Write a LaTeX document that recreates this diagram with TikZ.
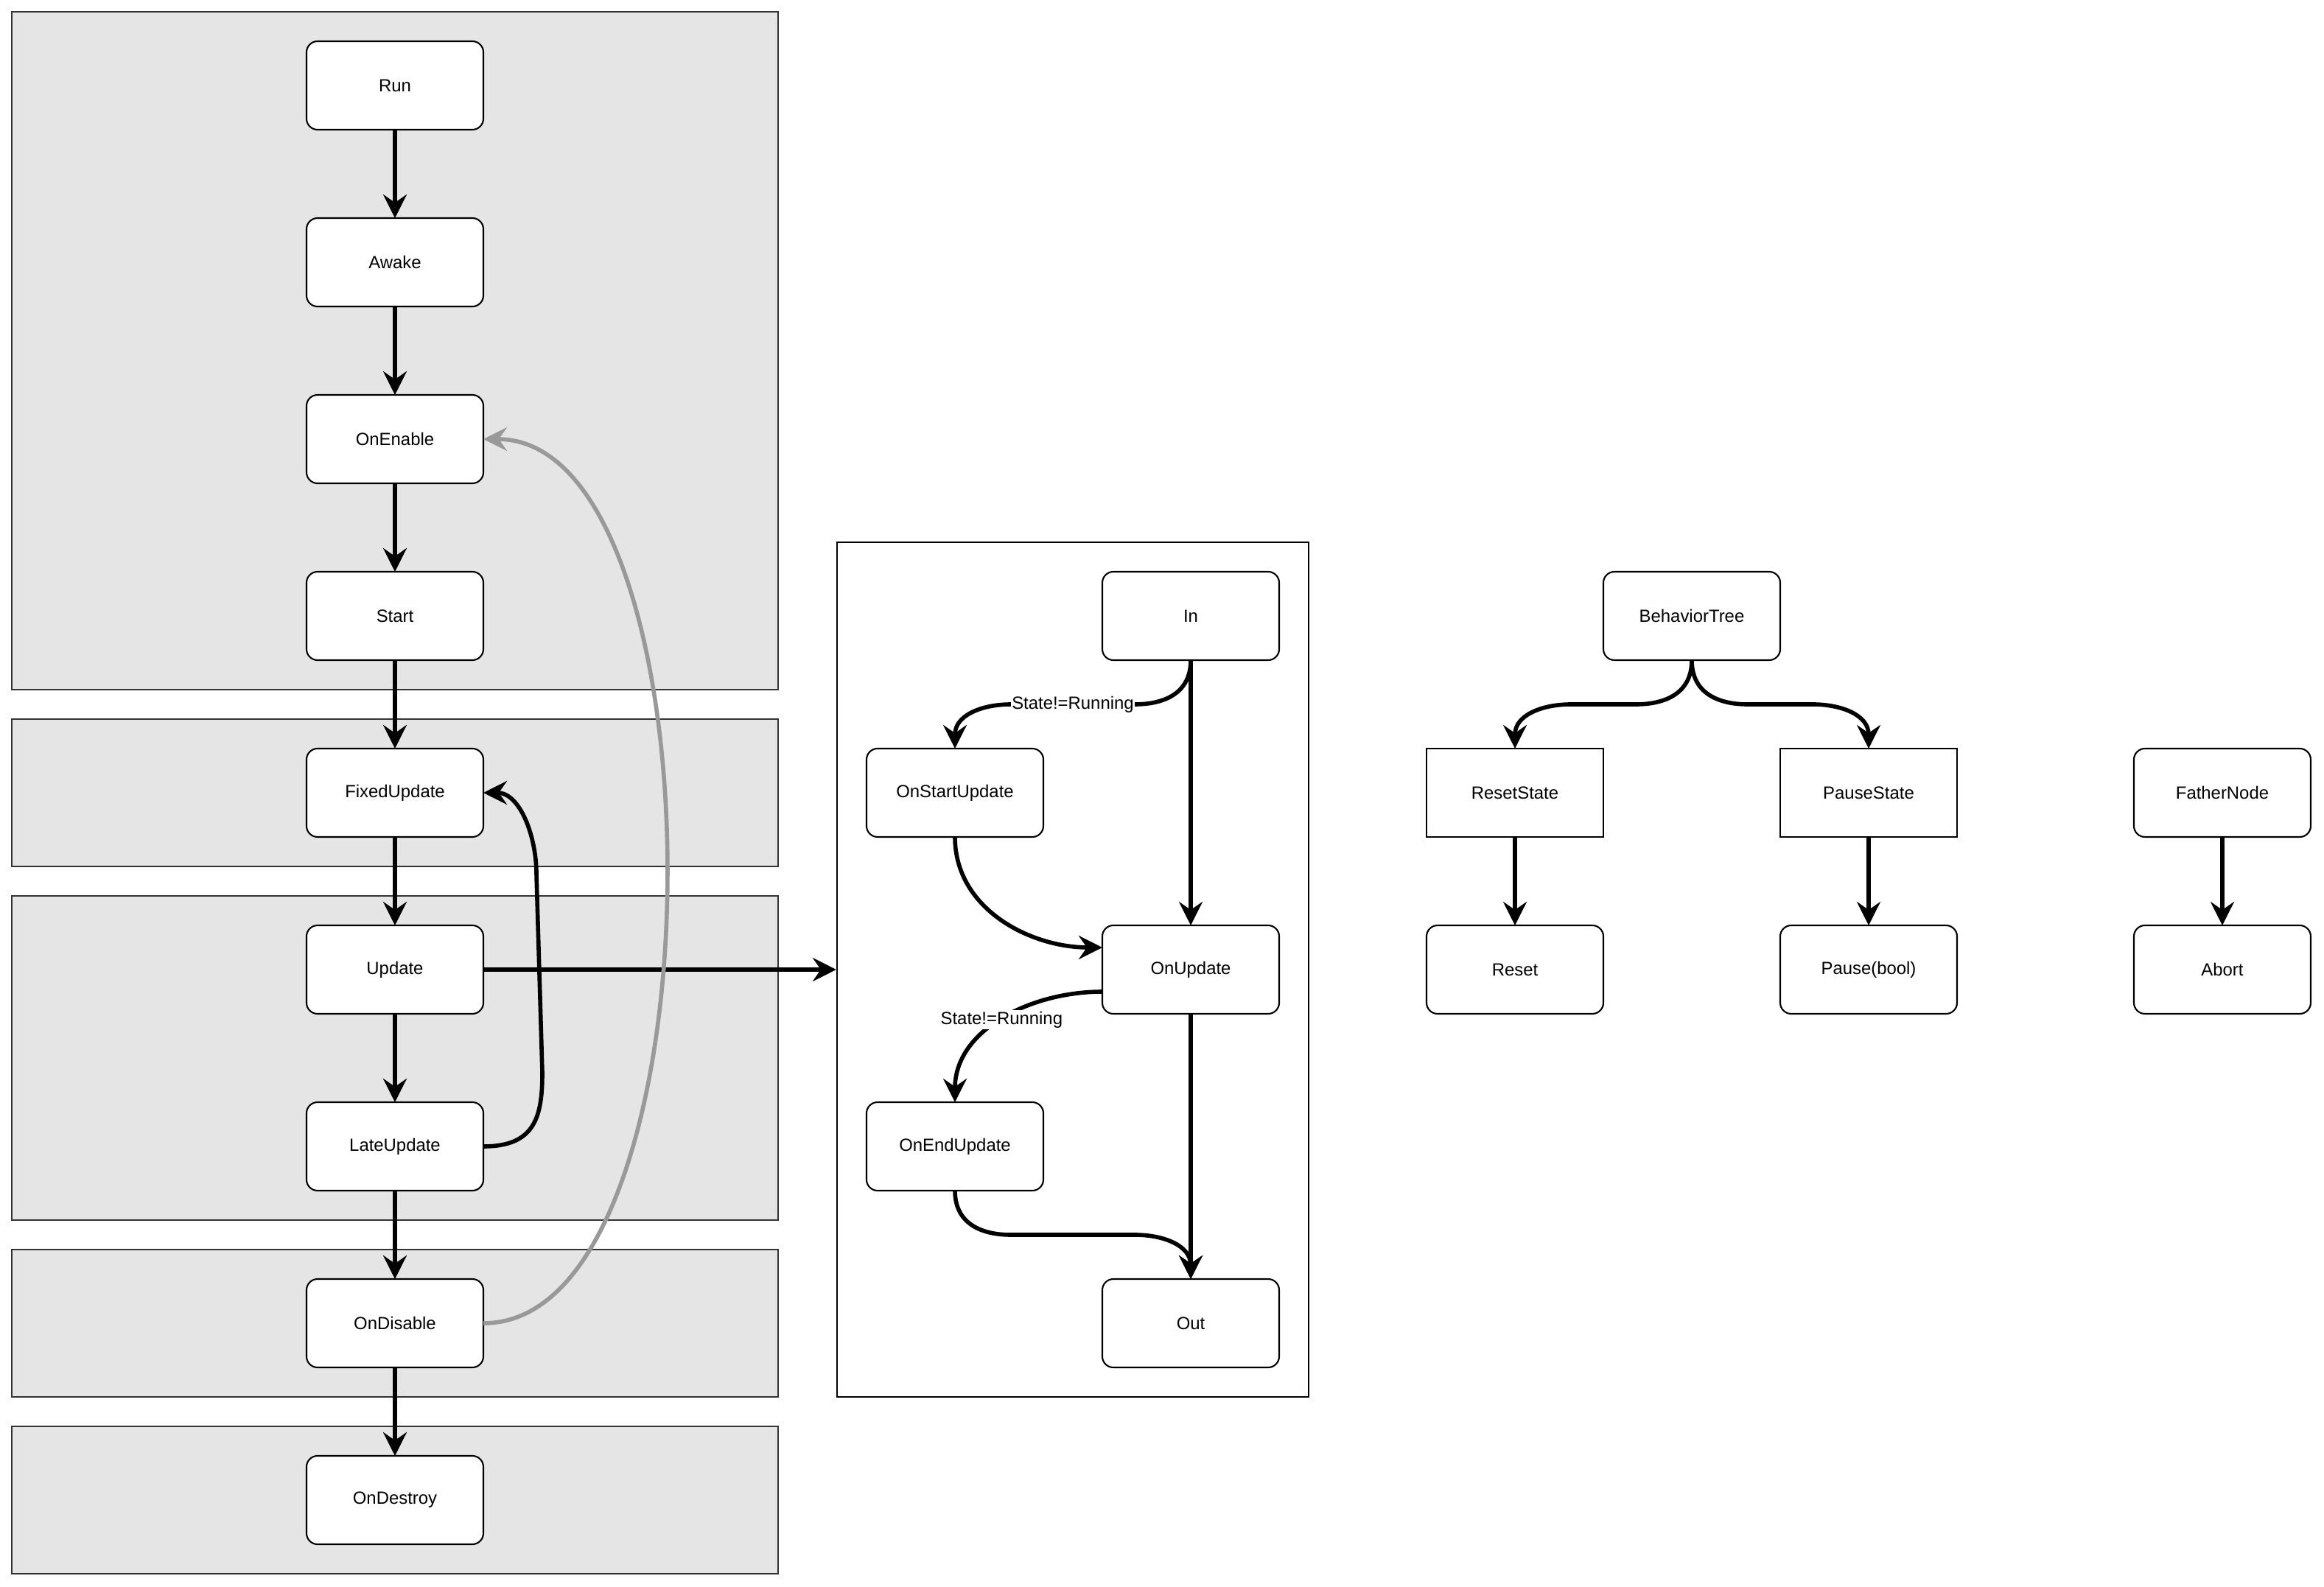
\documentclass[tikz,border=0pt]{standalone}
\usepackage{fontspec}
\setmainfont{Liberation Sans}
\usetikzlibrary{arrows.meta, positioning, fit, backgrounds}

\begin{document}
\begin{tikzpicture}[
  node distance=1.2cm,
  font=\fontsize{6.8}{8}\selectfont,
  >={Stealth[length=3.2mm, width=3.2mm, inset=1.1mm]},
  box/.style={rectangle, rounded corners=1.5mm, draw=black, line width=0.6pt, fill=white,
    minimum width=2.4cm, minimum height=1.2cm, inner sep=0pt, outer sep=0pt},
  sqbox/.style={box, sharp corners},
  flow/.style={->, line width=1.6pt},
  back/.style={->, line width=1.6pt, draw=black!40},
  lane/.style={rectangle, draw=black!80, fill=black!10, line width=0.6pt, inner xsep=4cm, inner ysep=4mm},
  frame/.style={rectangle, draw=black, fill=white, line width=0.6pt, inner sep=4mm},
  cond/.style={fill=white, inner sep=0.5pt}
]

\useasboundingbox (0,0) rectangle (31.54,-21.54);

% life cycle
\node[box] (run) at (5.36,-1.16) {Run};
\node[box, below=of run] (awake) {Awake};
\node[box, below=of awake] (onenable) {OnEnable};
\node[box, below=of onenable] (start) {Start};
\node[box, below=of start] (fixed) {FixedUpdate};
\node[box, below=of fixed] (update) {Update};
\node[box, below=of update] (late) {LateUpdate};
\node[box, below=of late] (disable) {OnDisable};
\node[box, below=of disable] (destroy) {OnDestroy};

% tick
\node[box] (in) at (16.16,-8.36) {In};
\node[box, below left=1.2cm and 0.8cm of in] (onstart) {OnStartUpdate};
\node[box, below right=1.2cm and 0.8cm of onstart] (onupdate) {OnUpdate};
\node[box, below left=1.2cm and 0.8cm of onupdate] (onend) {OnEndUpdate};
\node[box, below right=1.2cm and 0.8cm of onend] (out) {Out};

% tree
\node[box] (tree) at (22.96,-8.36) {BehaviorTree};
\node[sqbox, below left=1.2cm and 0cm of tree] (rstate) {ResetState};
\node[sqbox, below right=1.2cm and 0cm of tree] (pstate) {PauseState};
\node[box, right=2.4cm of pstate] (father) {FatherNode};
\node[box, below=of rstate] (reset) {Reset};
\node[box, below=of pstate] (pause) {Pause(bool)};
\node[box, below=of father] (abort) {Abort};

\begin{scope}[on background layer]
  \fill[white] (0,0) rectangle (31.54,-21.54);
  \node[lane, fit=(run)(start)] (initlane) {};
  \node[lane, fit=(fixed)] (fixedlane) {};
  \node[lane, fit=(update)(late)] (updatelane) {};
  \node[lane, fit=(disable)] (disablelane) {};
  \node[lane, fit=(destroy)] (destroylane) {};
  \node[frame, fit=(in)(onstart)(out)] (tick) {};
\end{scope}

\foreach \a/\b in {run/awake, awake/onenable, onenable/start, start/fixed,
                   fixed/update, update/late, late/disable, disable/destroy}
  \draw[flow] (\a) -- (\b);

\draw[flow, line width=1.9pt] (update) -- (update -| tick.west);
\draw[flow] (late.east) .. controls +(0.7,0) and +(0,-0.6) .. ++(0.8,1)
  -- ++(-0.08,2.7) .. controls +(0,0.5) and +(0.5,0) .. (fixed.east);
\draw[back] (disable.east) .. controls +(3.3,0) and +(3.3,0) .. (onenable.east);

\draw[flow] (in) -- (onupdate);
\draw[flow] (onupdate) -- (out);
\draw[flow] (in.south) .. controls +(0,-0.45) and +(0.4,0) .. ++(-0.76,-0.6)
  -- node[cond] {State!=Running} ++(-1.68,0)
  .. controls +(-0.4,0) and +(0,0.45) .. (onstart.north);
\draw[flow] (onstart.south) to[out=-90, in=180] ([yshift=3mm]onupdate.west);
\draw[flow] ([yshift=-3mm]onupdate.west) to[out=180, in=90]
  node[cond] {State!=Running} (onend.north);
\draw[flow] (onend.south) .. controls +(0,-0.45) and +(-0.4,0) .. ++(0.76,-0.6)
  -- ++(1.68,0) .. controls +(0.4,0) and +(0,0.45) .. (out.north);

\draw[flow] (tree.south) .. controls +(0,-0.45) and +(0.4,0) .. ++(-0.76,-0.6)
  -- ++(-0.88,0) .. controls +(-0.4,0) and +(0,0.45) .. (rstate.north);
\draw[flow] (tree.south) .. controls +(0,-0.45) and +(-0.4,0) .. ++(0.76,-0.6)
  -- ++(0.88,0) .. controls +(0.4,0) and +(0,0.45) .. (pstate.north);
\foreach \a/\b in {rstate/reset, pstate/pause, father/abort}
  \draw[flow] (\a) -- (\b);

\end{tikzpicture}
\end{document}
